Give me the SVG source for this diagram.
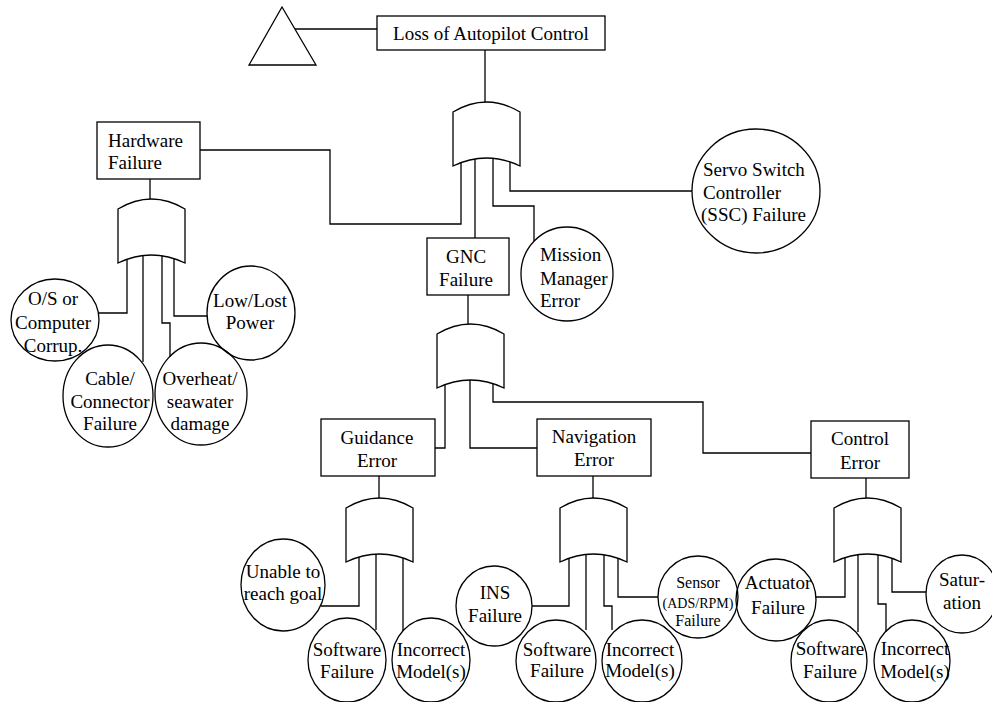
<svg xmlns="http://www.w3.org/2000/svg" xmlns:xlink="http://www.w3.org/1999/xlink" width="992" height="702" viewBox="0 0 992 702">
<style>
.ln{fill:none;stroke:#000;stroke-width:1.3}
.bx{fill:#fff;stroke:#000;stroke-width:1.3}
.ev{fill:none;stroke:#000;stroke-width:1.3}
.gt{fill:#fff;stroke:#000;stroke-width:1.3}
text{font-family:"Liberation Serif","Times New Roman",serif;font-size:19px;fill:#000}
.c{text-anchor:middle}
.s{font-size:16px}
.xs{font-size:14px}
</style>
<defs>
<path id="gate" d="M0,10 Q33.5,-10 67,10 L67,64 Q33.5,48 0,64 Z"/>
</defs>
<rect width="992" height="702" fill="#fff"/>
<g id="connectors">
<line class="ln" x1="295" y1="29" x2="377" y2="29"/>
<line class="ln" x1="485" y1="50" x2="485" y2="102"/>
<polyline class="ln" points="200,150 330,150 330,224 461,224 461,158"/>
<polyline class="ln" points="475,158 475,238"/>
<polyline class="ln" points="493,158 493,206 534,206 534,241"/>
<polyline class="ln" points="510,158 510,191 692,191"/>
<line class="ln" x1="468" y1="295" x2="468" y2="324"/>
<polyline class="ln" points="445,380 445,448 435,448"/>
<polyline class="ln" points="470,380 470,448 537,448"/>
<polyline class="ln" points="493,380 493,402 703,402 703,453 811,453"/>
<line class="ln" x1="150" y1="179" x2="150" y2="199"/>
<polyline class="ln" points="127,255 127,313 98,313"/>
<polyline class="ln" points="143,255 143,362"/>
<polyline class="ln" points="162,255 162,323 170,323 170,357"/>
<polyline class="ln" points="174,255 174,316 207,316"/>
<line class="ln" x1="379" y1="476" x2="379" y2="498"/>
<polyline class="ln" points="359,555 359,606 321,606"/>
<polyline class="ln" points="376,555 376,630"/>
<polyline class="ln" points="403,555 403,631"/>
<line class="ln" x1="593" y1="476" x2="593" y2="498"/>
<polyline class="ln" points="569,555 569,606 532,606"/>
<polyline class="ln" points="586,555 586,630"/>
<polyline class="ln" points="604,555 604,606 612,606 612,630"/>
<polyline class="ln" points="618,555 618,597 658,597"/>
<line class="ln" x1="866" y1="478" x2="866" y2="498"/>
<polyline class="ln" points="845,555 845,597 816,597"/>
<polyline class="ln" points="858,555 858,632"/>
<polyline class="ln" points="878,555 878,604 886,604 886,632"/>
<polyline class="ln" points="892,555 892,592 926,592"/>
</g>
<g id="transfer"><polygon class="bx" points="282,7 316,65 249,65"/></g>
<g id="gate-top"><use xlink:href="#gate" href="#gate" class="gt" x="453" y="102"/></g>
<g id="gate-hw"><use xlink:href="#gate" href="#gate" class="gt" x="118" y="199"/></g>
<g id="gate-gnc"><use xlink:href="#gate" href="#gate" class="gt" x="437" y="324"/></g>
<g id="gate-guid"><use xlink:href="#gate" href="#gate" class="gt" x="346" y="498"/></g>
<g id="gate-nav"><use xlink:href="#gate" href="#gate" class="gt" x="560" y="498"/></g>
<g id="gate-ctrl"><use xlink:href="#gate" href="#gate" class="gt" x="834" y="498"/></g>
<g id="top"><rect class="bx" x="377" y="16" width="228" height="34"/><text class="c" x="491" y="40">Loss of Autopilot Control</text></g>
<g id="hardware"><rect class="bx" x="97" y="122" width="103" height="57"/><text x="108" y="147">Hardware</text><text x="108" y="169">Failure</text></g>
<g id="gnc"><rect class="bx" x="427" y="238" width="82" height="57"/><text class="c" x="466" y="263">GNC</text><text class="c" x="466" y="286">Failure</text></g>
<g id="mission"><ellipse class="ev" cx="567" cy="274" rx="46" ry="47"/><text x="540" y="261">Mission</text><text x="540" y="285">Manager</text><text x="540" y="307">Error</text></g>
<g id="ssc"><ellipse class="ev" cx="756" cy="191" rx="64" ry="62"/><text x="703" y="176">Servo Switch</text><text x="703" y="199">Controller</text><text x="701" y="221">(SSC) Failure</text></g>
<g id="os"><ellipse class="ev" cx="55" cy="320" rx="44" ry="41"/><text class="c" x="53" y="305">O/S or</text><text class="c" x="53" y="329">Computer</text><text class="c" x="53" y="352">Corrup.</text></g>
<g id="cable"><ellipse class="ev" cx="108" cy="396" rx="45" ry="51"/><text class="c" x="110" y="385">Cable/</text><text class="c" x="110" y="408">Connector</text><text class="c" x="110" y="430">Failure</text></g>
<g id="overheat"><ellipse class="ev" cx="201" cy="394" rx="46" ry="51"/><text class="c" x="200" y="385">Overheat/</text><text class="c" x="200" y="408">seawater</text><text class="c" x="200" y="430">damage</text></g>
<g id="lowpower"><ellipse class="ev" cx="251" cy="313" rx="44" ry="47"/><text class="c" x="250" y="307">Low/Lost</text><text class="c" x="250" y="329">Power</text></g>
<g id="guidance"><rect class="bx" x="321" y="419" width="114" height="57"/><text class="c" x="377" y="444">Guidance</text><text class="c" x="377" y="467">Error</text></g>
<g id="navigation"><rect class="bx" x="537" y="419" width="114" height="57"/><text class="c" x="594" y="443">Navigation</text><text class="c" x="594" y="466">Error</text></g>
<g id="control"><rect class="bx" x="811" y="421" width="98" height="57"/><text class="c" x="860" y="445">Control</text><text class="c" x="860" y="469">Error</text></g>
<g id="unable"><ellipse class="ev" cx="283" cy="585" rx="42" ry="46"/><text class="c" x="283" y="578">Unable to</text><text class="c" x="283" y="600">reach goal</text></g>
<g id="sw-guid"><ellipse class="ev" cx="347" cy="660" rx="39" ry="42"/><text class="c" x="347" y="656">Software</text><text class="c" x="347" y="678">Failure</text></g>
<g id="im-guid"><ellipse class="ev" cx="431" cy="660" rx="39" ry="42"/><text class="c" x="431" y="656">Incorrect</text><text class="c" x="431" y="678">Model(s)</text></g>
<g id="ins"><ellipse class="ev" cx="494" cy="606" rx="38" ry="40"/><text class="c" x="495" y="599">INS</text><text class="c" x="495" y="622">Failure</text></g>
<g id="sw-nav"><ellipse class="ev" cx="556" cy="661" rx="40" ry="41"/><text class="c" x="557" y="656">Software</text><text class="c" x="557" y="677">Failure</text></g>
<g id="im-nav"><ellipse class="ev" cx="642" cy="661" rx="40" ry="41"/><text class="c" x="640" y="656">Incorrect</text><text class="c" x="640" y="677">Model(s)</text></g>
<g id="sensor"><ellipse class="ev" cx="698" cy="597" rx="40" ry="41"/><text class="c s" x="698" y="588">Sensor</text><text class="c xs" x="698" y="608">(ADS/RPM)</text><text class="c s" x="698" y="626">Failure</text></g>
<g id="actuator"><ellipse class="ev" cx="776" cy="600" rx="40" ry="41"/><text class="c" x="778" y="589">Actuator</text><text class="c" x="778" y="614">Failure</text></g>
<g id="sw-ctrl"><ellipse class="ev" cx="829" cy="661" rx="38" ry="41"/><text class="c" x="830" y="655">Software</text><text class="c" x="830" y="678">Failure</text></g>
<g id="im-ctrl"><ellipse class="ev" cx="912" cy="661" rx="38" ry="41"/><text class="c" x="915" y="655">Incorrect</text><text class="c" x="915" y="678">Model(s)</text></g>
<g id="saturation"><ellipse class="ev" cx="962" cy="594" rx="36" ry="39"/><text class="c" x="962" y="586">Satur-</text><text class="c" x="962" y="609">ation</text></g>
</svg>
